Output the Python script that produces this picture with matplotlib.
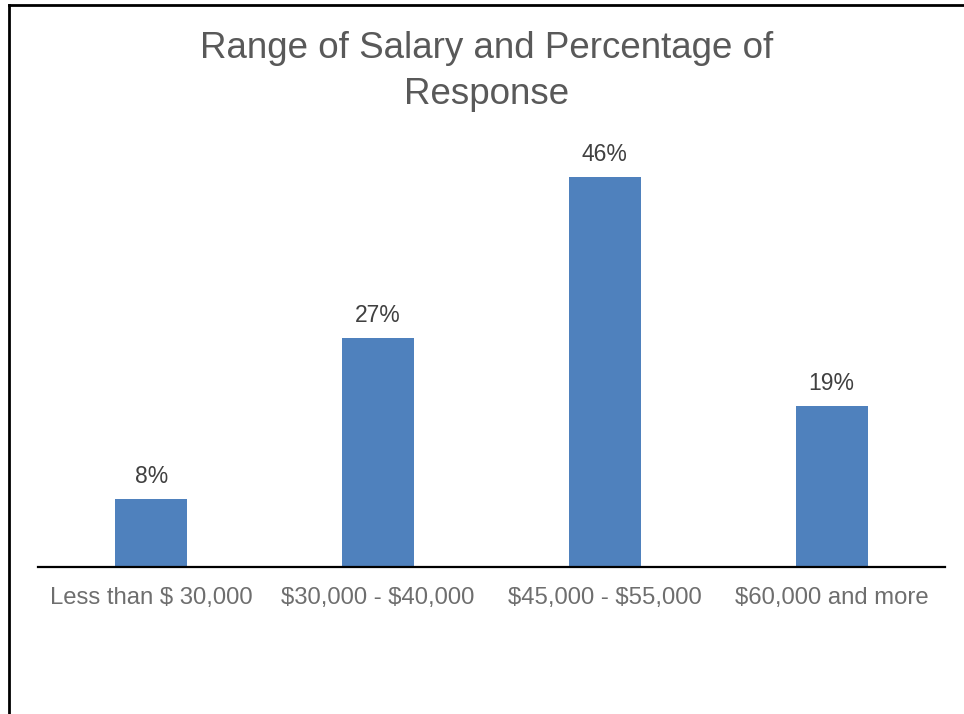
import matplotlib
matplotlib.use("Agg")
import matplotlib.pyplot as plt
from matplotlib.lines import Line2D

categories = ["Less than $ 30,000", "$30,000 - $40,000", "$45,000 - $55,000", "$60,000 and more"]
values = [8, 27, 46, 19]
labels = ["8%", "27%", "46%", "19%"]
title = "Range of Salary and Percentage of\nResponse"

plt.rcParams['font.family'] = ['Liberation Sans', 'DejaVu Sans']
plt.rcParams['text.parse_math'] = False

W, H = 964, 714
fig = plt.figure(figsize=(W / 100, H / 100), dpi=100)
ax = fig.add_axes([38 / W, (H - 567) / H, (945 - 38) / W, (567 - 143) / H])

x = list(range(len(categories)))
bars = ax.bar(x, values, width=0.317, color="#4f81bd", zorder=2)
ax.set_xlim(-0.5, len(categories) - 0.5)
ax.set_ylim(0, 50)

for rect, lab in zip(bars, labels):
    ax.annotate(lab, (rect.get_x() + rect.get_width() / 2, rect.get_height()),
                xytext=(0, 8), textcoords="offset points", ha="center", va="bottom",
                fontsize=16.5, color="#404040")

ax.set_xticks(x)
ax.set_xticklabels(categories, fontsize=17.2, color="#6e6e6e")
ax.tick_params(axis="x", length=0, pad=14.5)
ax.set_yticks([])
for s in ["top", "right", "left"]:
    ax.spines[s].set_visible(False)
ax.spines["bottom"].set_linewidth(1.6)
ax.spines["bottom"].set_color("black")

fig.text(487 / W, 1 - 71.5 / H, title, ha="center", va="center", fontsize=26.5,
         color="#595959", linespacing=1.42)

# outer border (left and top)
fig.add_artist(Line2D([9 / W, 9 / W], [0, 1 - 5 / H], transform=fig.transFigure,
                      color="black", linewidth=2))
fig.add_artist(Line2D([9 / W, 1], [1 - 5 / H, 1 - 5 / H], transform=fig.transFigure,
                      color="black", linewidth=2))

fig.savefig("out.png", dpi=100, facecolor="white")
